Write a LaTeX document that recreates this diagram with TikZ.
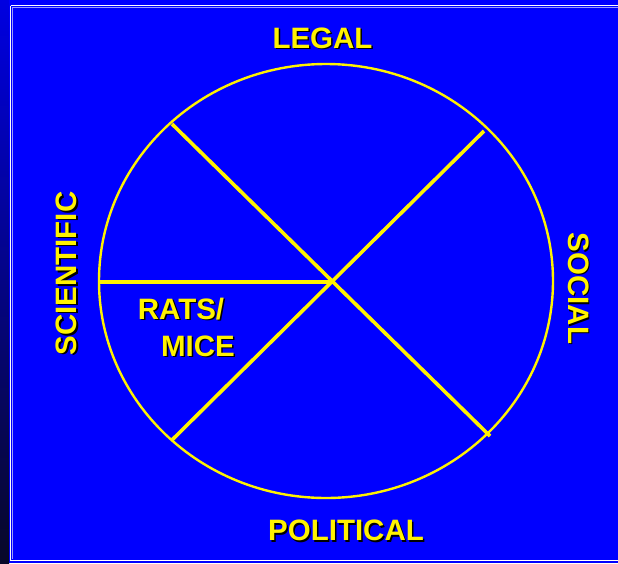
\documentclass[tikz,border=0pt]{standalone}
\usepackage{fontspec}
\setmainfont{Liberation Sans}
\begin{document}
\begin{tikzpicture}[x=1pt,y=-1pt,
  lbl/.style={text=yellow, font=\bfseries\fontsize{29.5}{32}\selectfont, inner sep=0pt, anchor=center},
  shd/.style={lbl, text=black},
  spoke/.style={draw=yellow, line width=3.6pt},
  rim/.style={draw=yellow, line width=2.4pt}]
\useasboundingbox (0,0) rectangle (618,563);
% background
\fill[blue] (0,0) rectangle (618,563);
\shade[top color=blue!88!black, bottom color={rgb,255:red,8;green,8;blue,40}] (0,0) rectangle (9,563);
\draw[white, line width=1.6pt] (10.5,5.5) -- (10.5,560.5) -- (625,560.5);
\draw[white, line width=1.6pt] (10.5,5.5) -- (625,5.5);
\draw[blue!40!white, line width=0.6pt] (12.3,7.3) -- (625,7.3);
\draw[blue!40!white, line width=0.6pt] (12.3,7.3) -- (12.3,558.7);
% circle and spokes
\coordinate (c) at (332,282);
\coordinate (w) at (99,282);
\coordinate (nw) at (172,124);
\coordinate (se) at (490,436);
\coordinate (ne) at (484,131);
\coordinate (sw) at (172,440);
\draw[rim] (326,281) ellipse [x radius=227, y radius=217];
\draw[spoke] (w) -- (c);
\draw[spoke] (nw) -- (se);
\draw[spoke] (ne) -- (sw);
% labels with shadow
\node[shd] (legals) at (324,39.5) {LEGAL};
\node[lbl] (legal) at (322.5,38) {LEGAL};
\node[shd] (polits) at (347.5,532) {POLITICAL};
\node[lbl] (polit) at (346,530.5) {POLITICAL};
\node[shd, rotate=90] (scis) at (68,275) {SCIENTIFIC};
\node[lbl, rotate=90] (sci) at (66.5,273.5) {SCIENTIFIC};
\node[shd, rotate=-90] (socs) at (580,290) {SOCIAL};
\node[lbl, rotate=-90] (soc) at (578.5,288.5) {SOCIAL};
\node[shd] (ratss) at (182.5,310.5) {RATS/};
\node[lbl] (rats) at (181,309) {RATS/};
\node[shd] (mices) at (199.5,347.5) {MICE};
\node[lbl] (mice) at (198,346) {MICE};
\end{tikzpicture}
\end{document}
